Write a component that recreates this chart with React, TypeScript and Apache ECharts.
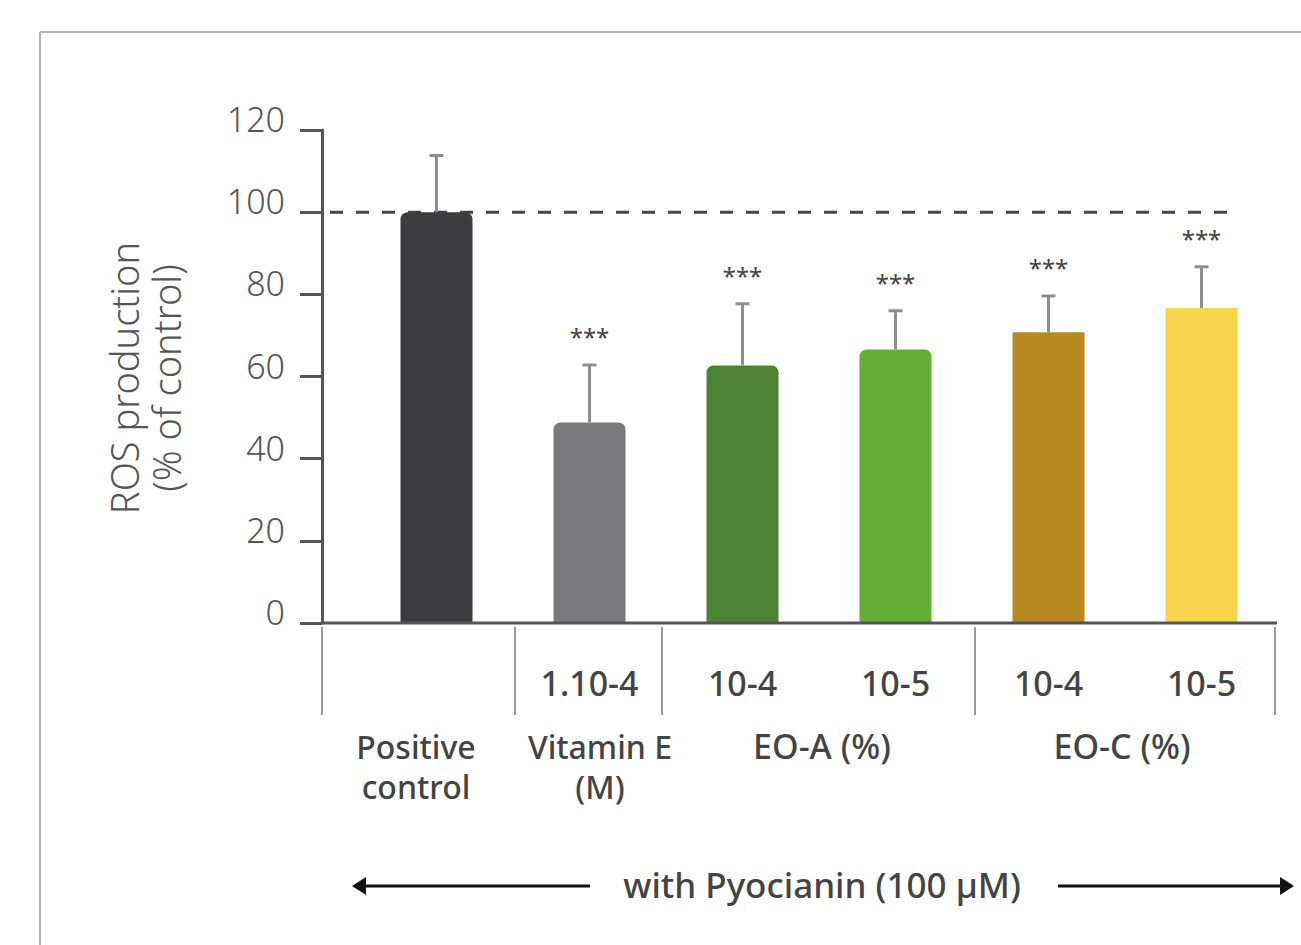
import React, { useEffect, useRef } from "react";
import * as echarts from "echarts";

const categories = ["Positive control", "Vitamin E 1.10-4", "EO-A 10-4", "EO-A 10-5", "EO-C 10-4", "EO-C 10-5"];
const subLabels = ["", "1.10-4", "10-4", "10-5", "10-4", "10-5"];
const values = [100, 48.8, 62.7, 66.6, 70.8, 76.7];
const errorTops = [113.8, 62.8, 77.7, 76.0, 79.6, 86.7];
const stars = ["", "***", "***", "***", "***", "***"];
const colors = ["#3c3c3e", "#7a7a7c", "#4b8233", "#62b036", "#b8891e", "#f8d44a"];
const yTicks = [0, 20, 40, 60, 80, 100, 120];
const controlLevel = 100;

const FONT = "'Noto Sans', sans-serif";

export default function App() {
  const ref = useRef<HTMLDivElement>(null);
  useEffect(() => {
    if (!ref.current) return;
    const chart = echarts.init(ref.current, null, { renderer: "svg" });
    const option: any = {
      animation: false,
      backgroundColor: "#ffffff",
      grid: { left: 360, right: 23, top: 130, bottom: 322, containLabel: false },
      xAxis: {
        type: "category",
        data: categories,
        axisLine: { show: false },
        axisTick: { show: false },
        axisLabel: {
          margin: 43,
          fontFamily: FONT,
          fontSize: 34,
          fontWeight: 500,
          color: "#444",
          formatter: (_v: string, i: number) => subLabels[i],
        },
      },
      yAxis: {
        type: "value",
        min: 0,
        max: 120,
        interval: 20,
        offset: 38,
        splitLine: { show: false },
        axisLine: { show: true, lineStyle: { color: "#555", width: 3 } },
        axisTick: { show: true, length: 22, lineStyle: { color: "#555", width: 3 } },
        axisLabel: {
          margin: 37,
          fontFamily: FONT,
          fontSize: 34,
          fontWeight: 300,
          color: "#555",
          verticalAlign: "bottom",
          lineHeight: 22,
          formatter: (v: number) => (yTicks.includes(v) ? String(v) : ""),
        },
      },
      series: [
        {
          type: "bar",
          barWidth: 72,
          data: values.map((v, i) => ({
            value: v,
            itemStyle: { color: colors[i], borderRadius: i < 4 ? [7, 7, 0, 0] : 0 },
          })),
          z: 2,
        },
        {
          type: "custom",
          z: 3,
          data: values.map((v, i) => [i, v, errorTops[i]]),
          renderItem: (params: any, api: any) => {
            const i = api.value(0);
            const base = api.coord([i, api.value(1)]);
            const top = api.coord([i, api.value(2)]);
            const children: any[] = [
              { type: "line", shape: { x1: top[0], y1: base[1], x2: top[0], y2: top[1] }, style: { stroke: "#8e8e8e", lineWidth: 3 } },
              { type: "line", shape: { x1: top[0] - 7, y1: top[1], x2: top[0] + 7, y2: top[1] }, style: { stroke: "#8e8e8e", lineWidth: 3 } },
            ];
            if (stars[params.dataIndex]) {
              children.push({
                type: "text",
                style: {
                  text: stars[params.dataIndex],
                  x: top[0],
                  y: top[1] - 28,
                  align: "center",
                  verticalAlign: "middle",
                  fontFamily: FONT,
                  fontSize: 24,
                  fill: "#444",
                },
              });
            }
            return { type: "group", children };
          },
        },
      ],
    };
    chart.setOption(option);
    const y100 = chart.convertToPixel({ yAxisIndex: 0 }, controlLevel) as number;
    const y0 = chart.convertToPixel({ yAxisIndex: 0 }, 0) as number;
    const sepStyle = { stroke: "#9a9a9a", lineWidth: 2 };
    const seps = [322, 515, 662, 975, 1275];
    const textStyle = (text: string, x: number, y: number, size = 34) => ({
      type: "text",
      style: { text, x, y, align: "center", verticalAlign: "middle", fontFamily: FONT, fontSize: size, fontWeight: 500, fill: "#444", lineHeight: 40 },
    });
    chart.setOption({
      graphic: [
        { type: "line", shape: { x1: 40, y1: 32, x2: 1301, y2: 32 }, style: { stroke: "#b3b3b3", lineWidth: 2 } },
        { type: "line", shape: { x1: 40, y1: 32, x2: 40, y2: 945 }, style: { stroke: "#b3b3b3", lineWidth: 2 } },
        { type: "line", z: 1, shape: { x1: 330, y1: y100, x2: 1237, y2: y100 }, style: { stroke: "#444", lineWidth: 3, lineDash: [13, 13] } },
        { type: "line", z: 10, shape: { x1: 322, y1: y0, x2: 1277, y2: y0 }, style: { stroke: "#555", lineWidth: 3 } },
        ...seps.map((x) => ({ type: "line", shape: { x1: x, y1: y0 + 4, x2: x, y2: 715 }, style: sepStyle })),
        {
          type: "text",
          x: 145,
          y: 378,
          rotation: Math.PI / 2,
          style: { text: "ROS production\n(% of control)", x: 0, y: 0, align: "center", verticalAlign: "middle", fontFamily: FONT, fontSize: 38, fontWeight: 300, fill: "#555", lineHeight: 42 },
        },
        textStyle("Positive\ncontrol", 416, 766, 32),
        textStyle("Vitamin E\n(M)", 600, 766, 32),
        textStyle("EO-A (%)", 822, 746),
        textStyle("EO-C (%)", 1122, 746),
        textStyle("with Pyocianin (100 µM)", 822, 884, 35),
        { type: "line", shape: { x1: 362, y1: 886, x2: 590, y2: 886 }, style: { stroke: "#111", lineWidth: 3 } },
        { type: "line", shape: { x1: 1058, y1: 886, x2: 1283, y2: 886 }, style: { stroke: "#111", lineWidth: 3 } },
        { type: "polygon", shape: { points: [[352, 886], [366, 877], [366, 895]] }, style: { fill: "#111" } },
        { type: "polygon", shape: { points: [[1294, 886], [1280, 877], [1280, 895]] }, style: { fill: "#111" } },
      ],
    });
    return () => chart.dispose();
  }, []);
  return <div ref={ref} style={{ width: 1301, height: 945, position: "absolute", left: 0, top: 0 }} />;
}
